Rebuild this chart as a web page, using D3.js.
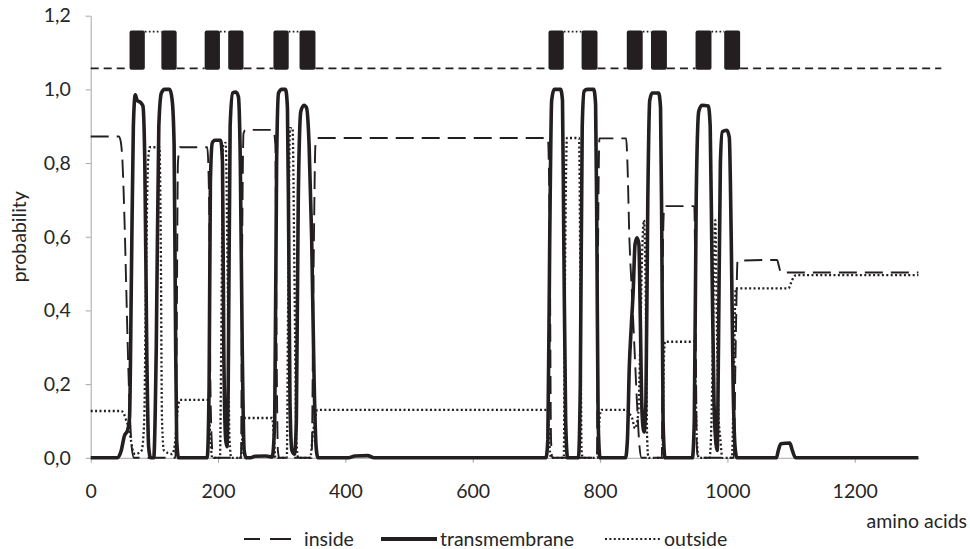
<!DOCTYPE html>
<html>
<head>
<meta charset="utf-8">
<script src="https://cdn.jsdelivr.net/npm/d3@7"></script>
<style>
  body { margin: 0; background: #fff; }
  text { font-family: Lato, "Open Sans", sans-serif; fill: #262626; }
</style>
</head>
<body>
<div id="chart"></div>
<script>
// x ticks and y ticks
const xTicks = [0, 200, 400, 600, 800, 1000, 1200];
const yTicks = [0, 0.2, 0.4, 0.6, 0.8, 1.0, 1.2];

// predicted helices (amino acid start, end) for the top bar
const helices = [[61, 85], [111, 135], [179, 203], [216, 240], [287, 311], [328, 353],
                 [719, 743], [771, 796], [842, 867], [880, 905], [950, 975], [995, 1020]];
const topoEnd = 1336;

// posterior probabilities, [amino acid, probability]
const transmembrane = [
  [0,0],[42,0],[48,0.02],[53,0.06],[58,0.075],[61,0.11],[64,0.5],[67,0.9],[70,0.985],[73,0.97],[78,0.965],[82,0.955],[85,0.8],[88,0.3],[91,0.03],[94,0],
  [99,0],[103,0.3],[107,0.9],[111,0.99],[116,1.0],[124,1.0],[128,0.97],[131,0.85],[133,0.4],[135,0.05],[138,0],
  [183,0],[186,0.2],[188,0.75],[191,0.855],[195,0.862],[204,0.862],[207,0.8],[209,0.3],[212,0.05],[214,0.03],[216,0.2],[219,0.9],[223,0.99],[228,0.993],[232,0.98],[235,0.8],[238,0.3],[241,0.02],[244,0],
  [250,0],[258,0.004],[275,0.005],[285,0.002],[289,0.1],[292,0.8],[295,0.99],[300,1.0],[306,1.0],[309,0.95],[311,0.6],[313,0.15],[316,0.02],[320,0.01],[323,0.1],[326,0.7],[330,0.94],[335,0.957],[339,0.95],[343,0.85],[347,0.6],[351,0.2],[354,0.03],[357,0],
  [405,0],[415,0.005],[435,0.006],[445,0],
  [715,0],[718,0.05],[721,0.6],[724,0.97],[728,1.0],[738,1.0],[741,0.97],[743,0.6],[746,0.1],[749,0],
  [766,0],[769,0.2],[772,0.9],[775,0.995],[780,1.0],[790,1.0],[793,0.96],[795,0.6],[797,0.1],[800,0],
  [840,0],[843,0.05],[846,0.25],[849,0.355],[852,0.45],[855,0.58],[858,0.597],[861,0.58],[863,0.4],[866,0.12],[869,0.07],[872,0.15],[875,0.7],[878,0.97],[882,0.99],[892,0.99],[895,0.95],[897,0.6],[899,0.1],[902,0],
  [945,0],[948,0.1],[951,0.7],[955,0.94],[960,0.957],[970,0.955],[973,0.9],[976,0.5],[979,0.15],[982,0.04],[984,0.02],[986,0.3],[989,0.8],[992,0.885],[999,0.889],[1003,0.87],[1006,0.6],[1009,0.2],[1012,0.03],[1015,0],
  [1077,0],[1080,0.02],[1084,0.038],[1098,0.04],[1102,0.02],[1107,0],[1300,0]
];

const inside = [
  [0,0.872],[44,0.872],[47,0.86],[50,0.8],[53,0.65],[56,0.45],[59,0.25],[62,0.1],[65,0.02],[68,0],
  [133,0],[135,0.3],[137,0.8],[140,0.843],[183,0.843],[186,0.7],[188,0.2],[191,0.02],[193,0],
  [236,0],[238,0.6],[240,0.88],[243,0.89],[287,0.89],[290,0.85],[292,0.3],[294,0.02],[296,0],
  [347,0],[350,0.5],[353,0.85],[356,0.868],[718,0.868],[721,0.6],[723,0.05],[725,0],
  [795,0],[797,0.6],[799,0.867],[841,0.867],[843,0.8],[846,0.6],[850,0.45],[854,0.3],[858,0.15],[862,0.03],[865,0],
  [897,0],[899,0.6],[901,0.683],[948,0.683],[950,0.4],[952,0.03],[954,0],
  [1010,0],[1013,0.3],[1016,0.535],[1078,0.537],[1081,0.52],[1084,0.503],[1300,0.503]
];

const outside = [
  [0,0.127],[48,0.127],[52,0.12],[56,0.1],[60,0.08],[63,0.05],[66,0.02],[70,0.01],[80,0.02],[84,0.1],[87,0.5],[90,0.8],[93,0.843],[108,0.843],[110,0.6],[112,0.1],[115,0.02],[128,0.01],[133,0.05],[136,0.12],[140,0.157],[185,0.157],[188,0.05],[191,0],
  [203,0],[205,0.3],[208,0.85],[212,0.855],[215,0.5],[218,0.05],[221,0],
  [236,0],[239,0.08],[242,0.108],[285,0.108],[288,0.05],[290,0],
  [308,0],[310,0.4],[313,0.895],[317,0.895],[320,0.5],[323,0.05],[326,0],
  [345,0],[348,0.05],[352,0.1],[356,0.13],[718,0.13],[720,0.05],[723,0],
  [743,0],[745,0.5],[748,0.868],[767,0.868],[769,0.5],[771,0.02],[773,0],
  [796,0],[799,0.1],[802,0.13],[842,0.13],[846,0.12],[850,0.11],[855,0.08],[860,0.12],[863,0.3],[866,0.55],[869,0.645],[872,0.4],[874,0.05],[876,0],
  [898,0],[900,0.25],[902,0.315],[948,0.315],[950,0.2],[952,0.05],[955,0],
  [972,0],[975,0.1],[978,0.4],[981,0.645],[984,0.3],[986,0.12],[989,0.05],[992,0],
  [1007,0],[1010,0.2],[1013,0.46],[1096,0.46],[1100,0.475],[1104,0.49],[1108,0.496],[1300,0.496]
];

// levels of the topology bar
const insideLevel = 1.057, outsideLevel = 1.157, barBottom = 1.053, barTop = 1.16;

const W = 970, H = 549;
const ink = "#231f20", axisColor = "#a6a6a6";
const fontSize = "19.5px";

const svg = d3.select("#chart").append("svg")
    .attr("width", W)
    .attr("height", H);

const x = d3.scaleLinear().domain([0, 1300]).range([90.7, 918.4]);
const y = d3.scaleLinear().domain([0, 1.2]).range([457.8, 15.7]);

const fmt = d => d3.format(".1f")(d).replace(".", ",");

// y axis
const yAxis = svg.append("g")
    .attr("transform", `translate(${x(0)},0)`)
    .call(d3.axisLeft(y).tickValues(yTicks).tickFormat(fmt).tickSize(5).tickSizeOuter(0));
yAxis.select(".domain").attr("stroke", axisColor);
yAxis.selectAll(".tick line").attr("stroke", axisColor);
yAxis.selectAll(".tick text")
    .attr("x", -20)
    .style("font-size", fontSize)
    .style("font-family", "Lato, sans-serif")
    .attr("fill", "#262626");

// x axis
const xAxis = svg.append("g")
    .attr("transform", `translate(0,${y(0)})`)
    .call(d3.axisBottom(x).tickValues(xTicks).tickFormat(d3.format("d")).tickSize(5).tickSizeOuter(0));
xAxis.select(".domain").attr("stroke", axisColor);
xAxis.selectAll(".tick line").attr("stroke", axisColor);
xAxis.selectAll(".tick text")
    .attr("y", 0)
    .attr("dy", null)
    .attr("transform", "translate(0,40)")
    .style("font-size", fontSize)
    .style("font-family", "Lato, sans-serif")
    .attr("fill", "#262626");

// axis titles
svg.append("text")
    .attr("transform", `translate(26,${(y(0) + y(1.2)) / 2}) rotate(-90)`)
    .attr("text-anchor", "middle")
    .style("font-size", fontSize)
    .text("probability");

svg.append("text")
    .attr("x", 967)
    .attr("y", 528)
    .attr("text-anchor", "end")
    .style("font-size", fontSize)
    .text("amino acids");

// probability curves
const line = d3.line()
    .x(d => x(d[0]))
    .y(d => y(d[1]))
    .curve(d3.curveMonotoneX);

svg.append("path")
    .datum(outside)
    .attr("fill", "none")
    .attr("stroke", ink)
    .attr("stroke-width", 2.3)
    .attr("stroke-dasharray", "2,2.4")
    .attr("d", line);

svg.append("path")
    .datum(inside)
    .attr("fill", "none")
    .attr("stroke", ink)
    .attr("stroke-width", 1.9)
    .attr("stroke-dasharray", "18,8")
    .attr("d", line);

svg.append("path")
    .datum(transmembrane)
    .attr("fill", "none")
    .attr("stroke", ink)
    .attr("stroke-width", 3.6)
    .attr("stroke-linejoin", "round")
    .attr("d", line);

// topology bar: loops alternate inside / outside between helices
const loops = [];
let prev = 0;
helices.forEach((h, i) => {
  loops.push({from: prev, to: h[0], side: i % 2 === 0 ? "in" : "out"});
  prev = h[1];
});
loops.push({from: prev, to: topoEnd, side: "in"});

svg.append("g")
    .selectAll("line")
    .data(loops)
    .join("line")
    .attr("x1", d => x(d.from))
    .attr("x2", d => x(d.to))
    .attr("y1", d => y(d.side === "in" ? insideLevel : outsideLevel))
    .attr("y2", d => y(d.side === "in" ? insideLevel : outsideLevel))
    .attr("stroke", ink)
    .attr("stroke-width", d => d.side === "in" ? 1.7 : 1.7)
    .attr("stroke-dasharray", d => d.side === "in" ? "8,5" : "1.7,2.3");

svg.append("g")
    .selectAll("rect")
    .data(helices)
    .join("rect")
    .attr("x", d => x(d[0]))
    .attr("width", d => x(d[1]) - x(d[0]))
    .attr("y", y(barTop))
    .attr("height", y(barBottom) - y(barTop))
    .attr("rx", 2)
    .attr("fill", ink);

// legend
const legend = svg.append("g").attr("transform", "translate(0,539)");
legend.append("line")
    .attr("x1", 244).attr("x2", 291)
    .attr("stroke", ink).attr("stroke-width", 2.2)
    .attr("stroke-dasharray", "16,10,21");
legend.append("text").attr("x", 304).attr("dy", "0.35em").style("font-size", fontSize).text("inside");
legend.append("line")
    .attr("x1", 381).attr("x2", 437)
    .attr("stroke", ink).attr("stroke-width", 4.2);
legend.append("text").attr("x", 440).attr("dy", "0.35em").style("font-size", fontSize).text("transmembrane");
legend.append("line")
    .attr("x1", 605).attr("x2", 660)
    .attr("stroke", ink).attr("stroke-width", 2.2)
    .attr("stroke-dasharray", "2,2.4");
legend.append("text").attr("x", 664).attr("dy", "0.35em").style("font-size", fontSize).text("outside");
</script>
</body>
</html>
